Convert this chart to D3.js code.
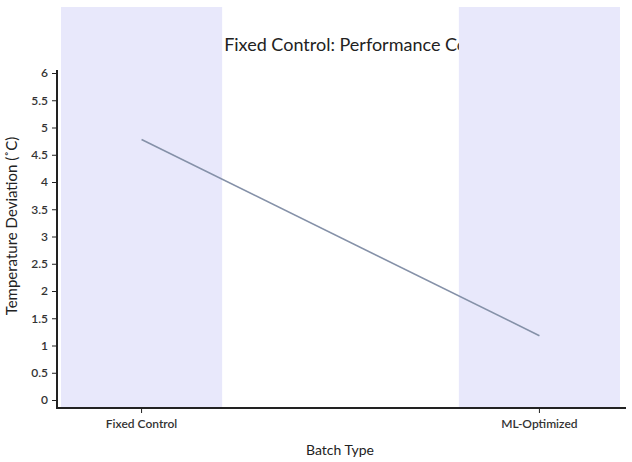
<!DOCTYPE html>
<html>
  <meta charset="utf-8" />
  <script src="https://d3js.org/d3.v7.min.js"></script>
  <style>
    body { margin: 0; background: #fff; }
    text { font-family: Lato, "Open Sans", sans-serif; }
  </style>
  <body>
    <svg id="chart" width="632" height="462"></svg>
    <script>
      // data
      var batchTypes = ["Fixed Control", "ML-Optimized"]
      var deviation = [4.78, 1.18]
      var yTicks = [0, 0.5, 1, 1.5, 2, 2.5, 3, 3.5, 4, 4.5, 5, 5.5, 6]
      var titleHidden = "ML vs "
      var titleShown = "Fixed Control: Performance Comparison"

      var svg = d3.select("#chart")

      var x = d3.scaleBand()
        .domain(batchTypes)
        .range([61, 620])
        .paddingInner(0.595)
        .paddingOuter(0)

      var y = d3.scaleLinear()
        .domain([0, 6])
        .range([400, 73])

      // title (the bands sit on top of it), placed so "Fixed" starts just past the first band
      var title = svg.append("text")
        .attr("y", 51)
        .attr("font-size", 18)
        .attr("fill", "#222")
      title.append("tspan").attr("class", "pre").text(titleHidden)
      title.append("tspan").text(titleShown)
      var preW = title.select(".pre").node().getComputedTextLength()
      title.attr("x", x(batchTypes[0]) + x.bandwidth() + 2 - preW)

      // lavender bands behind each category
      svg.append("g")
        .selectAll("rect")
        .data(batchTypes)
        .enter()
        .append("rect")
        .attr("x", d => x(d))
        .attr("y", 7)
        .attr("width", x.bandwidth())
        .attr("height", 400)
        .attr("fill", "#e8e8fb")

      // the line
      var line = d3.line()
        .x((d, i) => x(batchTypes[i]) + x.bandwidth() / 2)
        .y(d => y(d))

      svg.append("path")
        .datum(deviation)
        .attr("d", line)
        .attr("fill", "none")
        .attr("stroke", "#8591a8")
        .attr("stroke-width", 1.6)

      // y axis
      var gy = svg.append("g")
        .attr("transform", "translate(57,0)")
        .call(d3.axisLeft(y).tickValues(yTicks).tickFormat(d3.format("~g"))
          .tickSize(5).tickPadding(4).tickSizeOuter(0))
      gy.select(".domain").attr("d", "M0,70V409").attr("stroke", "#222").attr("stroke-width", 2)
      gy.selectAll(".tick line").attr("stroke", "#222")
      gy.selectAll(".tick text").attr("font-family", "Lato, sans-serif")
        .attr("font-size", 12).attr("font-weight", 600).attr("fill", "#333")

      // x axis
      var gx = svg.append("g")
        .attr("transform", "translate(0,408)")
        .call(d3.axisBottom(x).tickSize(5).tickPadding(6).tickSizeOuter(0))
      gx.select(".domain").attr("d", "M56,0H626").attr("stroke", "#222").attr("stroke-width", 2)
      gx.selectAll(".tick line").attr("stroke", "#222")
      gx.selectAll(".tick text").attr("font-family", "Lato, sans-serif")
        .attr("font-size", 12).attr("font-weight", 600).attr("fill", "#333")

      // axis titles
      svg.append("text")
        .attr("x", 340)
        .attr("y", 455)
        .attr("text-anchor", "middle")
        .attr("font-size", 14)
        .attr("fill", "#222")
        .text("Batch Type")

      svg.append("text")
        .attr("transform", "translate(17,226) rotate(-90)")
        .attr("text-anchor", "middle")
        .attr("font-size", 15)
        .attr("fill", "#222")
        .text("Temperature Deviation (˚C)")
    </script>
  </body>
</html>
